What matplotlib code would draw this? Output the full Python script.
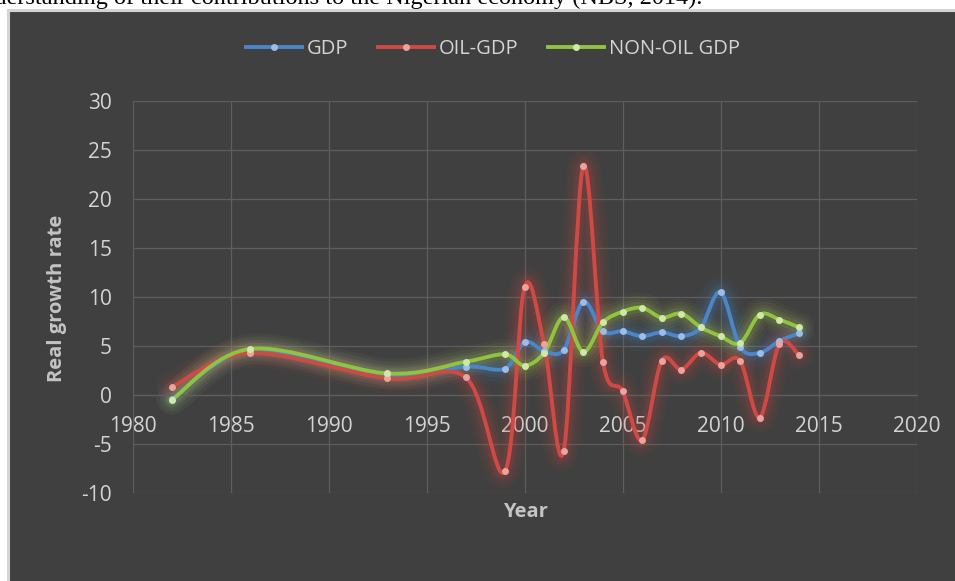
import matplotlib
matplotlib.use("Agg")
import matplotlib.pyplot as plt
from matplotlib.path import Path
from matplotlib.patches import PathPatch, Rectangle
from matplotlib.lines import Line2D

plt.rcParams['font.family'] = ['Open Sans', 'DejaVu Sans']
plt.rcParams['axes.unicode_minus'] = False

# values
years = [1982, 1986, 1993, 1997, 1999, 2000, 2001, 2002, 2003, 2004,
         2005, 2006, 2007, 2008, 2009, 2010, 2011, 2012, 2013, 2014]
gdp = [-0.4, 4.5, 2.1, 2.9, 2.7, 5.4, 4.5, 4.6, 9.5, 6.5,
       6.5, 6.0, 6.4, 6.0, 6.9, 10.5, 4.9, 4.3, 5.5, 6.3]
oil_gdp = [0.8, 4.3, 1.7, 1.8, -7.8, 11.0, 5.2, -5.7, 23.4, 3.4,
           0.4, -4.6, 3.5, 2.6, 4.3, 3.1, 3.5, -2.3, 5.2, 4.1]
non_oil_gdp = [-0.5, 4.7, 2.2, 3.4, 4.15, 3.0, 4.3, 7.95, 4.4, 7.4,
               8.5, 8.9, 7.9, 8.3, 6.9, 6.0, 5.3, 8.2, 7.7, 6.9]

series_names = ["GDP", "OIL-GDP", "NON-OIL GDP"]
line_colors = ["#4a86c8", "#cf4a45", "#8fc340"]
marker_colors = ["#9dbde6", "#eba39d", "#cfe8a8"]
glow_colors = ["#4a86c8", "#d8453f", "#b8d055"]

BG = "#404040"
GRID = "#5e5e5e"
TXT = "#d4d4d4"


def smooth_path(xs, ys):
    # Excel-like smoothed line: cubic bezier, catmull-rom style control points
    pts = list(zip(xs, ys))
    n = len(pts)
    verts = [pts[0]]
    codes = [Path.MOVETO]
    for i in range(n - 1):
        p0 = pts[i - 1] if i > 0 else pts[i]
        p1 = pts[i]
        p2 = pts[i + 1]
        p3 = pts[i + 2] if i + 2 < n else pts[i + 1]
        c1 = (p1[0] + (p2[0] - p0[0]) / 6.0, p1[1] + (p2[1] - p0[1]) / 6.0)
        c2 = (p2[0] - (p3[0] - p1[0]) / 6.0, p2[1] - (p3[1] - p1[1]) / 6.0)
        verts += [c1, c2, p2]
        codes += [Path.CURVE4, Path.CURVE4, Path.CURVE4]
    return Path(verts, codes)


fig = plt.figure(figsize=(9.55, 5.81), dpi=100)
fig.patch.set_facecolor("white")

# dark chart panel with light border (cut off at right and bottom)
panel = Rectangle((8 / 955, -0.2), 1.2, (581 - 10) / 581 + 0.2,
                  transform=fig.transFigure, facecolor=BG,
                  edgecolor="#d4d4d4", lw=2.2, zorder=-5)
fig.patches.append(panel)

# document text above, clipped by top edge
fig.text(702 / 955, 1 - 4 / 581,
         "understanding of their contributions to the Nigerian economy (NBS, 2014).",
         ha="right", va="baseline", fontsize=17.5,
         family=["Liberation Serif", "DejaVu Serif"], color="black")

ax = fig.add_axes([132.5 / 955, (581 - 493) / 581, 784 / 955, 392 / 581])
ax.set_facecolor(BG)
ax.patch.set_alpha(0)
ax.set_xlim(1980, 2020)
ax.set_ylim(-10, 30)
ax.set_xticks(range(1980, 2021, 5))
ax.set_yticks(range(-10, 31, 5))
ax.grid(True, color=GRID, lw=0.9)
ax.set_axisbelow(True)
for s in ["top", "right", "left"]:
    ax.spines[s].set_visible(False)
ax.spines["bottom"].set_position(("data", 0))
ax.spines["bottom"].set_color(GRID)
ax.spines["bottom"].set_linewidth(0.9)
ax.tick_params(axis="both", length=0, colors=TXT, labelsize=15)
ax.tick_params(axis="x", pad=15)
ax.tick_params(axis="y", pad=15)

all_series = [gdp, oil_gdp, non_oil_gdp]
for vals, lc, mc, gc in zip(all_series, line_colors, marker_colors, glow_colors):
    path = smooth_path(years, vals)
    # soft glow
    for w, a in [(22, 0.045), (17, 0.06), (12, 0.08), (8, 0.11)]:
        ax.add_patch(PathPatch(path, facecolor="none", edgecolor=gc, lw=w,
                               alpha=a, capstyle="round", joinstyle="round",
                               zorder=2))
    ax.add_patch(PathPatch(path, facecolor="none", edgecolor=lc, lw=2.8,
                           capstyle="round", joinstyle="round", zorder=3))
    ax.plot(years, vals, ls="none", marker="o", ms=5, color=mc,
            markeredgewidth=0, zorder=4)

handles = [Line2D([], [], color=lc, lw=2.8, marker="o", ms=5,
                  markerfacecolor=mc, markeredgewidth=0)
           for lc, mc in zip(line_colors, marker_colors)]
fig.legend(handles, series_names, loc="center",
           bbox_to_anchor=(493 / 955, 1 - 49 / 581), ncol=3, frameon=False,
           handlelength=2.8, handletextpad=0.25, columnspacing=1.45,
           labelcolor=TXT, fontsize=14.5)

fig.text(57 / 955, 1 - 298 / 581, "Real growth rate", rotation=90,
         ha="center", va="center", fontsize=14.5, fontweight="bold",
         color="#c4c4c4")
fig.text(525 / 955, 1 - 512 / 581, "Year", ha="center", va="center",
         fontsize=14.5, fontweight="bold", color="#c4c4c4")

fig.savefig("out.png", dpi=100, facecolor=fig.get_facecolor())
